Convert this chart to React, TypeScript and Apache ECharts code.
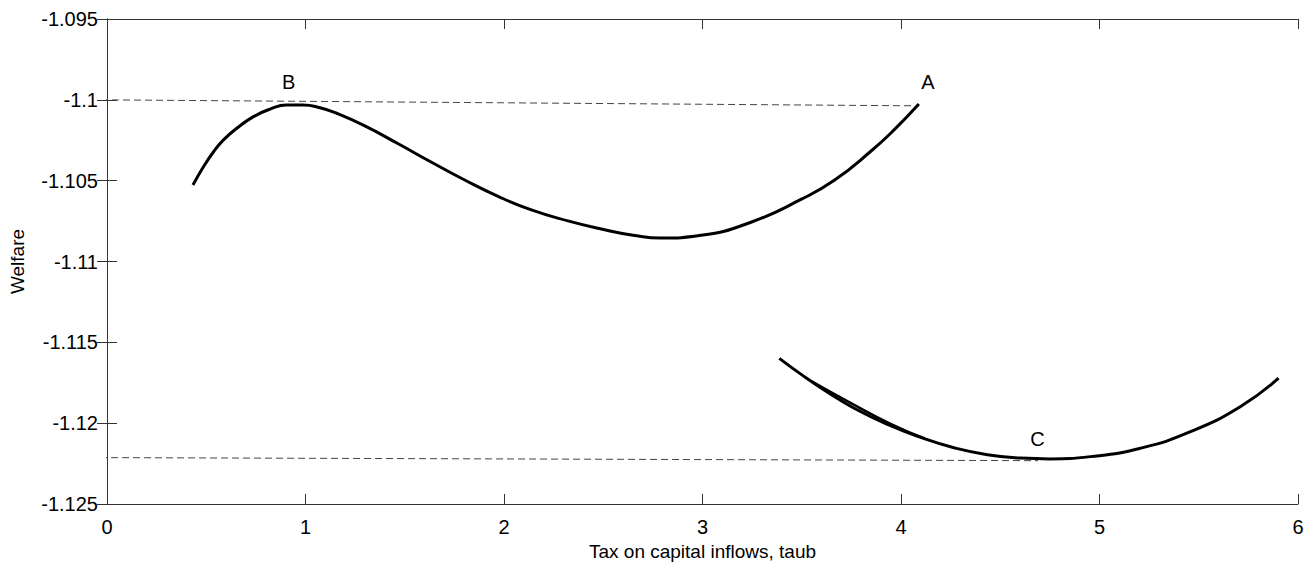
import React, { useEffect, useRef } from "react";
import * as echarts from "echarts";

const upperX = [0.433, 0.486, 0.537, 0.587, 0.654, 0.738, 0.822, 0.905, 0.989, 1.073, 1.157, 1.299, 1.467, 1.635, 1.802, 1.97, 2.138, 2.322, 2.49, 2.65, 2.79, 2.993, 3.244, 3.496, 3.664, 3.848, 3.97, 4.09];
const upperY = [-1.10527, -1.10414, -1.10321, -1.10248, -1.10176, -1.10104, -1.10057, -1.10032, -1.10032, -1.10049, -1.10083, -1.10161, -1.10272, -1.10386, -1.10496, -1.10597, -1.10681, -1.10749, -1.10799, -1.10837, -1.10855, -1.10838, -1.10757, -1.10616, -1.10498, -1.10318, -1.1018, -1.10026];

const lowerX = [3.387, 3.513, 3.64, 3.764, 3.932, 4.099, 4.267, 4.435, 4.603, 4.75, 4.955, 5.206, 5.458, 5.709, 5.902];
const lowerY = [-1.11599, -1.11712, -1.11816, -1.11908, -1.12008, -1.12088, -1.12152, -1.12195, -1.12216, -1.12221, -1.12207, -1.12155, -1.12053, -1.11898, -1.11722];

const branchX = [3.55, 3.75, 3.95, 4.12];
const branchY = [-1.11742, -1.11878, -1.12006, -1.12095];

const refHighX = [-0.03, 4.07];
const refHighY = [-1.1, -1.10037];
const refLowX = [-0.035, 4.69];
const refLowY = [-1.12213, -1.12232];

const pointNames = ["A", "B", "C"];
const pointX = [4.135, 0.915, 4.688];
const pointY = [-1.0989, -1.0989, -1.121];

const xTicks = [0, 6, 1];
const yTicks = [-1.125, -1.095, 0.005];

const zip = (xs: number[], ys: number[]) => xs.map((x, i) => [x, ys[i]]);

export default function App() {
  const ref = useRef<HTMLDivElement>(null);
  useEffect(() => {
    if (!ref.current) return;
    const chart = echarts.init(ref.current, null, { renderer: "svg" });
    const font = "Liberation Sans, Arial, sans-serif";
    const axisLine = { show: true, lineStyle: { color: "#333", width: 1 } };
    const tick = { show: true, inside: true, length: 10, lineStyle: { color: "#333" } };
    chart.setOption({
      animation: false,
      backgroundColor: "#fff",
      grid: { left: 105, right: 15, top: 19, bottom: 69, containLabel: false },
      xAxis: [
        {
          type: "value",
          min: xTicks[0],
          max: xTicks[1],
          interval: xTicks[2],
          position: "bottom",
          axisLine,
          axisTick: tick,
          splitLine: { show: false },
          axisLabel: { color: "#000", fontSize: 20, fontFamily: font, margin: 13 },
          name: "Tax on capital inflows, taub",
          nameLocation: "middle",
          nameGap: 37,
          nameTextStyle: { color: "#000", fontSize: 19, fontFamily: font, verticalAlign: "top" },
        },
        {
          type: "value",
          min: xTicks[0],
          max: xTicks[1],
          interval: xTicks[2],
          position: "top",
          axisLine,
          axisTick: tick,
          splitLine: { show: false },
          axisLabel: { show: false },
        },
      ],
      yAxis: [
        {
          type: "value",
          min: yTicks[0],
          max: yTicks[1],
          interval: yTicks[2],
          position: "left",
          axisLine,
          axisTick: tick,
          splitLine: { show: false },
          axisLabel: {
            color: "#000",
            fontSize: 20,
            fontFamily: font,
            margin: 9,
            formatter: (v: number) => String(+v.toFixed(3)),
          },
          name: "Welfare",
          nameLocation: "middle",
          nameGap: 80,
          nameTextStyle: { color: "#000", fontSize: 19, fontFamily: font },
        },
        {
          type: "value",
          min: yTicks[0],
          max: yTicks[1],
          interval: yTicks[2],
          position: "right",
          axisLine,
          axisTick: tick,
          splitLine: { show: false },
          axisLabel: { show: false },
        },
      ],
      series: [
        {
          type: "line",
          data: zip(refHighX, refHighY),
          symbol: "none",
          clip: false,
          lineStyle: { color: "#444", width: 1, type: [7, 4] },
          z: 1,
        },
        {
          type: "line",
          data: zip(refLowX, refLowY),
          symbol: "none",
          clip: false,
          lineStyle: { color: "#444", width: 1, type: [7, 4] },
          z: 1,
        },
        {
          type: "line",
          data: zip(upperX, upperY),
          symbol: "none",
          smooth: 0.5,
          lineStyle: { color: "#000", width: 3 },
          z: 3,
        },
        {
          type: "line",
          data: zip(lowerX, lowerY),
          symbol: "none",
          smooth: 0.5,
          lineStyle: { color: "#000", width: 3 },
          z: 3,
        },
        {
          type: "line",
          data: zip(branchX, branchY),
          symbol: "none",
          smooth: 0.5,
          lineStyle: { color: "#000", width: 2.5 },
          z: 3,
        },
        {
          type: "scatter",
          data: pointNames.map((n, i) => ({ name: n, value: [pointX[i], pointY[i]] })),
          symbolSize: 1,
          itemStyle: { color: "#fff", opacity: 0 },
          label: {
            show: true,
            position: "inside",
            formatter: (p: any) => p.name,
            color: "#000",
            opacity: 1,
            textBorderWidth: 0,
            fontSize: 20,
            fontFamily: font,
          },
          z: 4,
        },
      ],
    });
    return () => chart.dispose();
  }, []);
  return (
    <div
      ref={ref}
      style={{ position: "fixed", left: 0, top: 0, width: 1313, height: 573, background: "#fff" }}
    />
  );
}
